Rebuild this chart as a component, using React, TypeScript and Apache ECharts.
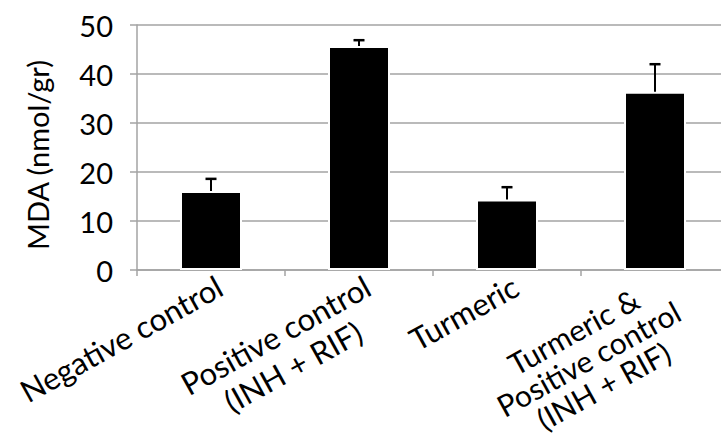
import React, { useEffect, useRef } from "react";
import * as echarts from "echarts";

const categories: string[] = [
  "Negative control",
  "Positive control\n(INH + RIF)",
  "Turmeric",
  "Turmeric &\nPositive control\n(INH + RIF)",
];
const meanValues: number[] = [16.1, 45.7, 14.4, 36.4];
const upperErrors: number[] = [2.5, 1.2, 2.5, 5.6];
const yAxisTitle = "MDA (nmol/gr)";
const yMin = 0;
const yMax = 50;
const yStep = 10;

const FONT = "Lato, 'Open Sans', sans-serif";
const GRID_GREY = "#a3a3a3";

export default function App() {
  const ref = useRef<HTMLDivElement | null>(null);

  useEffect(() => {
    if (!ref.current) return;
    const chart = echarts.init(ref.current, undefined, { renderer: "svg" });

    const errorData = categories.map((_, i) => [i, meanValues[i], upperErrors[i]]);

    chart.setOption({
      animation: false,
      backgroundColor: "#ffffff",
      grid: {
        left: 137,
        top: 25,
        width: 592,
        height: 245,
        containLabel: false,
        outerBoundsMode: "none",
      },
      xAxis: {
        type: "category",
        data: categories,
        axisLine: { show: true, lineStyle: { color: GRID_GREY, width: 1.5 } },
        axisTick: { show: true, length: 6, lineStyle: { color: GRID_GREY, width: 1.5 } },
        axisLabel: {
          interval: 0,
          rotate: 29,
          margin: -2,
          verticalAlign: "top",
          align: "right",
          color: "#000",
          fontFamily: FONT,
          fontSize: 31,
          formatter: (v: string, idx: number) => {
            const key = v.split("\n").length > 2 ? "d" : "c";
            return v
              .split("\n")
              .map((l) => `{${key}|${l}}`)
              .join("\n");
          },
          rich: {
            c: {
              align: "center",
              color: "#000",
              fontFamily: FONT,
              fontSize: 31,
              lineHeight: 36,
            },
            d: {
              align: "center",
              color: "#000",
              fontFamily: FONT,
              fontSize: 30,
              lineHeight: 31,
            },
          },
        },
      },
      yAxis: {
        type: "value",
        min: yMin,
        max: yMax,
        interval: yStep,
        name: yAxisTitle,
        nameLocation: "middle",
        nameGap: 85,
        nameTextStyle: {
          color: "#000",
          fontFamily: FONT,
          fontSize: 29,
          padding: [0, 15, 0, 0],
        },
        axisLine: { show: true, lineStyle: { color: GRID_GREY, width: 1.5 } },
        axisTick: { show: true, length: 7, lineStyle: { color: GRID_GREY, width: 1.5 } },
        axisLabel: { color: "#000", fontFamily: FONT, fontSize: 29, margin: 24 },
        splitLine: { show: true, lineStyle: { color: GRID_GREY, width: 1.5 } },
      },
      series: [
        {
          type: "bar",
          data: meanValues,
          barWidth: 62,
          itemStyle: { color: "#000", borderColor: "#fff", borderWidth: 2 },
        },
        {
          type: "custom",
          data: errorData,
          z: 10,
          renderItem: (params: any, api: any) => {
            const x = api.value(0);
            const y = api.value(1);
            const e = api.value(2);
            const base = api.coord([x, y]);
            const top = api.coord([x, y + e]);
            const half = 5.5;
            return {
              type: "group",
              children: [
                {
                  type: "line",
                  shape: { x1: base[0], y1: base[1], x2: top[0], y2: top[1] },
                  style: { stroke: "#000", lineWidth: 2 },
                },
                {
                  type: "line",
                  shape: { x1: top[0] - half, y1: top[1], x2: top[0] + half, y2: top[1] },
                  style: { stroke: "#000", lineWidth: 2.5 },
                },
              ],
            };
          },
        },
      ],
    });

    return () => chart.dispose();
  }, []);

  return (
    <div
      ref={ref}
      style={{ position: "fixed", left: 0, top: 0, width: 721, height: 437, background: "#fff" }}
    />
  );
}
